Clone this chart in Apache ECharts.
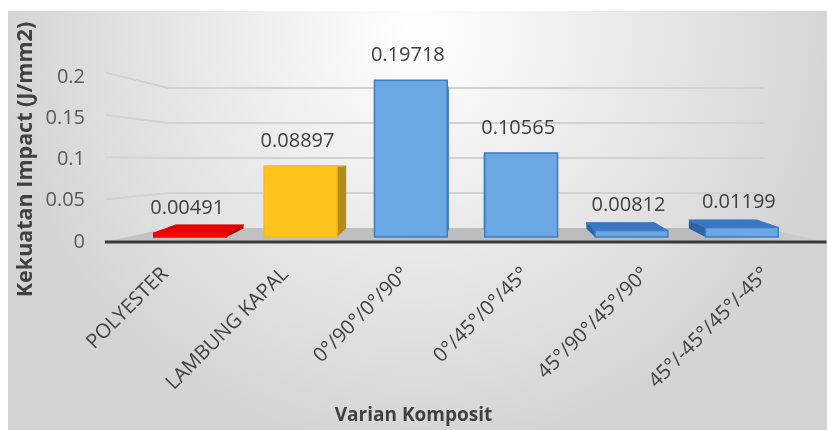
<!DOCTYPE html>
<html>
<head>
<meta charset="utf-8">
<script src="https://cdn.jsdelivr.net/npm/echarts@6/dist/echarts.min.js"></script>
<style>
  html, body { margin: 0; padding: 0; background: #fff; }
  #chart { width: 827px; height: 430px; }
</style>
</head>
<body>
<div id="chart"></div>
<script>
// data
const categories = ['POLYESTER', 'LAMBUNG KAPAL', '0°/90°/0°/90°', '0°/45°/0°/45°', '45°/90°/45°/90°', '45°/-45°/45°/-45°']
const impact = [0.00491, 0.08897, 0.19718, 0.10565, 0.00812, 0.01199]
const yTicks = [0, 0.05, 0.1, 0.15, 0.2]

// faces: front / top / side / border
const red = ['#ff0000', '#e40000', '#b00000', '#ff0000']
const yellow = ['#ffc31f', '#f2b600', '#b38c1a', '#f7bd18']
const blue = ['#6aa7e3', '#3b77c0', '#2d64a6', '#3d7cc6']
const barStyle = [red, yellow, blue, blue, blue, blue]

const FONT = '"Open Sans", "Noto Sans", sans-serif'
const chart = echarts.init(document.getElementById('chart'))

// simple 3d look: every plane is scaled toward a vanishing point
function proj(VX, VY, p, fx, fy) {
  return [VX + (p[0] - VX) * fx, VY + (p[1] - VY) * fy]
}
function vanish(params, api) {
  const cs = params.coordSys
  const y0 = api.coord([0, 0])[1]
  return [cs.x + cs.width * 0.505, y0 - 75]
}

function renderWalls(params, api) {
  const cs = params.coordSys
  const [VX, VY] = vanish(params, api)
  const v = api.value(1)
  const y = api.coord([0, v])[1]
  const xl = cs.x, xr = cs.x + cs.width
  const fl = proj(VX, VY, [xl, y], 1.09, 1.067)
  const fr = proj(VX, VY, [xr, y], 1.09, 1.067)
  const bl = proj(VX, VY, [xl, y], 0.9, 0.88)
  const br = proj(VX, VY, [xr, y], 0.9, 0.88)
  if (v === 0) {
    return {
      type: 'group',
      children: [
        {
          type: 'polygon',
          shape: {points: [fl, fr, br, bl]},
          style: {
            fill: new echarts.graphic.LinearGradient(0, 0, 1, 0, [
              {offset: 0, color: '#c2c2c2'},
              {offset: 0.85, color: '#bbbbbb'},
              {offset: 1, color: '#d2d2d2'}
            ])
          }
        },
        {
          type: 'line',
          shape: {x1: fl[0], y1: fl[1], x2: fr[0], y2: fr[1]},
          style: {stroke: '#3a3a3a', lineWidth: 3}
        }
      ]
    }
  }
  return {
    type: 'polyline',
    shape: {points: [fl, bl, br]},
    style: {stroke: '#d2d2d2', lineWidth: 2, fill: null}
  }
}

function renderBar(params, api) {
  const [VX, VY] = vanish(params, api)
  const i = api.value(0)
  const v = api.value(1)
  const st = barStyle[i]
  const top = api.coord([i, v])
  const base = api.coord([i, 0])
  const w = api.size([1, 0])[0] * 0.66
  const x1 = top[0] - w / 2, x2 = top[0] + w / 2
  const yT = top[1], yB = base[1]
  const k = (p) => proj(VX, VY, p, 0.93, 0.885)
  const FLT = [x1, yT], FRT = [x2, yT], FRB = [x2, yB], FLB = [x1, yB]
  const BLT = k(FLT), BRT = k(FRT), BRB = k(FRB), BLB = k(FLB)
  const kids = []
  if (x2 < VX) {
    kids.push({type: 'polygon', shape: {points: [FRT, BRT, BRB, FRB]}, style: {fill: st[2]}})
  }
  if (x1 > VX) {
    kids.push({type: 'polygon', shape: {points: [FLT, BLT, BLB, FLB]}, style: {fill: st[2]}})
  }
  if (yT > VY) {
    kids.push({type: 'polygon', shape: {points: [FLT, FRT, BRT, BLT]}, style: {fill: st[1], stroke: st[1], lineWidth: 1}})
  }
  kids.push({
    type: 'rect',
    shape: {x: x1, y: yT, width: w, height: yB - yT},
    style: {fill: st[0], stroke: st[3], lineWidth: 1.5}
  })
  kids.push({
    type: 'text',
    style: {
      text: String(impact[i]),
      x: top[0] - 3,
      y: yT - 25,
      align: 'center',
      verticalAlign: 'middle',
      fill: '#404040',
      font: '20px ' + FONT
    }
  })
  return {type: 'group', children: kids}
}

const option = {
  animation: false,
  graphic: [{
    type: 'rect',
    z: -10,
    shape: {x: 8, y: 11, width: 819, height: 419},
    style: {
      fill: new echarts.graphic.RadialGradient(0.5, 0.05, 1.0, [
        {offset: 0, color: '#ffffff'},
        {offset: 0.3, color: '#f2f2f2'},
        {offset: 0.75, color: '#dfdfdf'},
        {offset: 1, color: '#d4d4d4'}
      ])
    }
  }],
  title: {
    text: 'Varian Komposit',
    left: 'center',
    top: 401,
    textStyle: {fontFamily: FONT, fontSize: 19, fontWeight: 'bold', color: '#404040'}
  },
  grid: [
    // plane of the bar fronts
    {left: 135, right: 30, top: 78, bottom: 193},
    // y labels sit on the front edge of the floor
    {left: 90, width: 10, top: 77, bottom: 188},
    // category labels follow the front edge of the floor
    {left: 105, right: 1, top: 77, bottom: 188}
  ],
  xAxis: [
    {
      type: 'category',
      gridIndex: 0,
      data: categories,
      axisLine: {show: false},
      axisTick: {show: false},
      axisLabel: {show: false}
    },
    {type: 'value', gridIndex: 1, show: false},
    {
      type: 'category',
      gridIndex: 2,
      data: categories,
      axisLine: {show: false},
      axisTick: {show: false},
      axisLabel: {
        rotate: 45,
        margin: 29,
        interval: 0,
        color: '#404040',
        fontFamily: FONT,
        fontSize: 20
      }
    }
  ],
  yAxis: [
    {
      type: 'value',
      gridIndex: 0,
      min: 0, max: 0.2, interval: 0.05,
      axisLine: {show: false},
      axisTick: {show: false},
      axisLabel: {show: false},
      splitLine: {show: false}
    },
    {
      type: 'value',
      gridIndex: 1,
      min: 0, max: 0.2, interval: 0.05,
      name: 'Kekuatan Impact (J/mm2)',
      nameLocation: 'middle',
      nameRotate: 90,
      nameGap: 53,
      nameTextStyle: {fontFamily: FONT, fontSize: 21.5, fontWeight: 'bold', color: '#404040'},
      axisLine: {show: false},
      axisTick: {show: false},
      splitLine: {show: false},
      axisLabel: {margin: 5, color: '#595959', fontFamily: FONT, fontSize: 20}
    },
    {
      type: 'value',
      gridIndex: 2,
      min: 0, max: 0.2,
      show: false
    }
  ],
  series: [
    {
      type: 'custom',
      xAxisIndex: 0,
      yAxisIndex: 0,
      z: 1,
      clip: false,
      silent: true,
      renderItem: renderWalls,
      data: yTicks.map(v => [0, v])
    },
    {
      type: 'custom',
      xAxisIndex: 0,
      yAxisIndex: 0,
      z: 2,
      clip: false,
      silent: true,
      renderItem: renderBar,
      data: impact.map((v, i) => [i, v])
    }
  ]
}

chart.setOption(option)
</script>
</body>
</html>
